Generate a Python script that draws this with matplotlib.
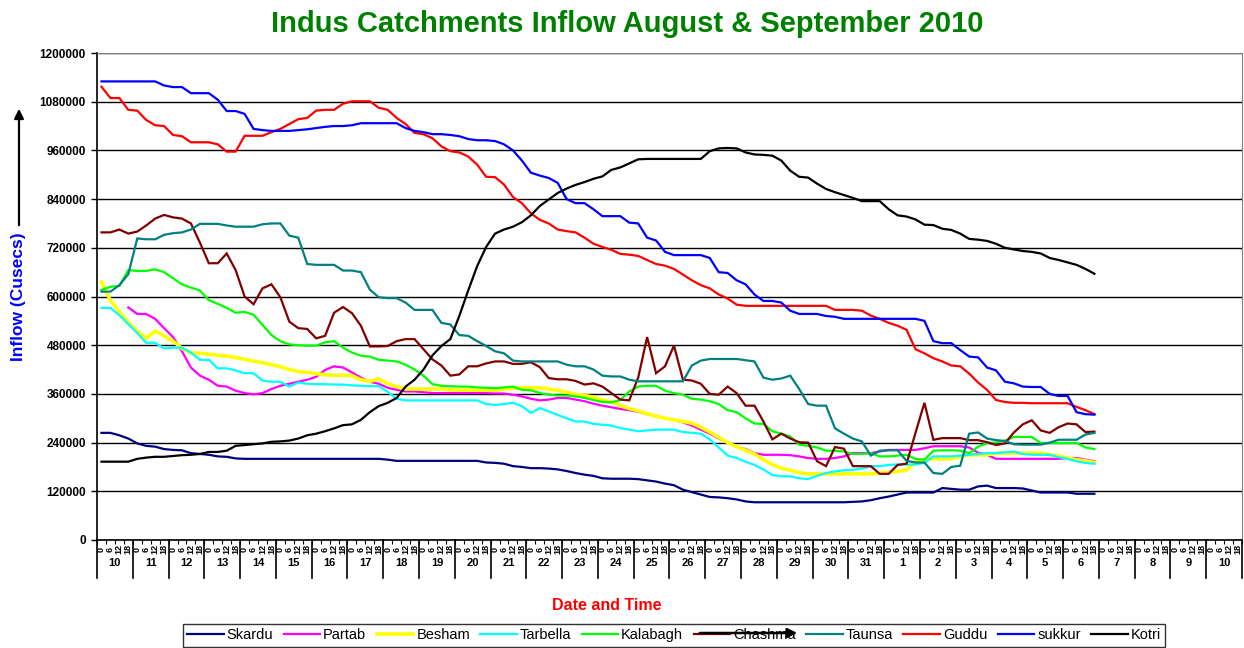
import numpy as np
import matplotlib
matplotlib.use("Agg")
import matplotlib.pyplot as plt
import matplotlib.transforms as mtransforms

plt.rcParams['font.family'] = ['Liberation Sans', 'DejaVu Sans']

# flows in thousand cusecs, one value every 6 hours from 10 Aug 00h to 6 Sep 18h
skardu = [264, 264, 258, 250, 238, 232, 230, 224, 222, 221, 214, 212, 210, 206, 205, 201,
          200, 200, 200, 200, 200, 200, 200, 200, 200, 200, 200, 200, 200, 200, 200, 200,
          198, 195, 195, 195, 195, 195, 195, 195, 195, 195, 195, 191, 190, 188, 182, 180,
          177, 177, 176, 174, 170, 165, 161, 158, 152, 151, 151, 151, 150, 147, 144, 139,
          135, 124, 118, 112, 106, 105, 103, 100, 95, 93, 93, 93, 93, 93, 93, 93,
          93, 93, 93, 93, 94, 95, 98, 103, 107, 112, 117, 117, 117, 117, 128, 126,
          124, 124, 132, 134, 128, 128, 128, 127, 122, 117, 117, 117, 117, 114, 114, 114]
partab = [np.nan, np.nan, np.nan, 573, 557, 557, 545, 522, 500, 465, 425, 405, 395, 380, 378, 368,
          362, 359, 362, 372, 380, 385, 390, 395, 402, 419, 428, 425, 413, 400, 390, 385,
          375, 370, 366, 366, 364, 362, 362, 362, 362, 362, 362, 362, 361, 361, 358, 354,
          348, 344, 346, 350, 350, 346, 342, 336, 331, 327, 323, 320, 316, 310, 306, 300,
          296, 290, 282, 272, 262, 250, 240, 230, 224, 214, 210, 210, 210, 209, 206, 202,
          200, 200, 202, 206, 214, 214, 214, 218, 222, 222, 222, 222, 226, 231, 231, 231,
          231, 228, 215, 210, 200, 200, 200, 200, 200, 200, 200, 200, 202, 202, 198, 194]
besham = [636, 590, 563, 536, 515, 497, 515, 503, 490, 472, 461, 460, 458, 455, 453, 450,
          445, 441, 437, 432, 427, 420, 415, 413, 410, 407, 406, 406, 405, 395, 391, 397,
          385, 378, 372, 372, 372, 372, 372, 370, 369, 369, 369, 369, 369, 372, 374, 375,
          375, 375, 372, 369, 364, 359, 356, 352, 345, 340, 331, 324, 318, 311, 305, 300,
          296, 292, 288, 278, 266, 253, 240, 230, 221, 212, 198, 186, 177, 172, 166, 163,
          163, 163, 163, 163, 163, 163, 163, 165, 167, 169, 172, 192, 198, 200, 200, 200,
          206, 210, 210, 210, 214, 214, 214, 214, 214, 214, 210, 207, 202, 198, 195, 191]
tarbella = [572, 572, 554, 532, 510, 486, 486, 472, 474, 474, 462, 444, 444, 423, 423, 418,
            411, 411, 393, 390, 390, 378, 388, 385, 384, 384, 383, 383, 381, 380, 379, 379,
            365, 348, 344, 344, 344, 344, 344, 344, 344, 344, 344, 335, 333, 335, 338, 330,
            313, 325, 317, 308, 300, 292, 292, 286, 284, 282, 276, 272, 268, 270, 272, 272,
            272, 266, 264, 262, 248, 228, 208, 202, 193, 185, 174, 160, 157, 157, 152, 150,
            158, 165, 169, 172, 173, 176, 182, 182, 185, 186, 186, 186, 190, 206, 206, 206,
            208, 210, 212, 214, 214, 216, 218, 212, 210, 210, 210, 204, 200, 194, 190, 188]
kalabagh = [616, 624, 626, 665, 663, 663, 667, 660, 645, 630, 622, 615, 591, 582, 572, 560,
            562, 555, 530, 505, 490, 482, 480, 479, 479, 487, 490, 474, 462, 454, 452, 444,
            442, 440, 432, 420, 405, 384, 380, 379, 378, 378, 376, 375, 374, 376, 378, 370,
            369, 362, 358, 356, 356, 354, 350, 345, 340, 339, 345, 366, 378, 380, 380, 368,
            362, 358, 348, 346, 342, 335, 320, 315, 300, 287, 286, 268, 262, 255, 235, 232,
            228, 220, 220, 218, 212, 212, 214, 206, 206, 208, 210, 200, 198, 220, 221, 221,
            220, 214, 230, 239, 240, 245, 254, 254, 254, 239, 239, 239, 239, 239, 228, 224]
chashma = [758, 758, 765, 755, 760, 775, 792, 801, 795, 792, 780, 733, 682, 682, 706, 665,
           600, 581, 620, 630, 598, 538, 522, 520, 497, 503, 560, 574, 559, 528, 477, 477,
           478, 490, 495, 495, 470, 445, 430, 405, 408, 428, 428, 435, 440, 440, 434, 434,
           438, 426, 399, 396, 396, 392, 383, 386, 378, 362, 346, 344, 400, 500, 411, 428,
           479, 395, 393, 385, 360, 358, 378, 362, 331, 331, 292, 248, 262, 250, 241, 240,
           194, 182, 229, 225, 182, 182, 182, 163, 163, 185, 188, 264, 338, 247, 251, 251,
           251, 246, 246, 241, 234, 238, 265, 285, 295, 270, 264, 278, 287, 285, 266, 267]
taunsa = [612, 612, 628, 655, 743, 741, 741, 752, 756, 758, 765, 779, 779, 779, 775, 772,
          772, 772, 778, 780, 780, 750, 745, 680, 678, 678, 678, 664, 664, 660, 617, 598,
          596, 596, 585, 567, 567, 567, 535, 531, 505, 503, 490, 478, 465, 460, 442, 440,
          440, 440, 440, 440, 432, 428, 428, 420, 405, 403, 403, 395, 391, 391, 391, 391,
          391, 391, 430, 442, 446, 446, 446, 446, 443, 440, 400, 395, 398, 405, 372, 335,
          331, 331, 275, 262, 250, 243, 208, 220, 221, 221, 195, 191, 191, 165, 163, 180,
          183, 262, 265, 250, 246, 244, 236, 235, 235, 235, 240, 247, 247, 247, 260, 264]
guddu = [1117, 1089, 1089, 1060, 1058, 1035, 1022, 1020, 998, 995, 980, 980, 980, 975, 957, 957,
         996, 996, 996, 1005, 1013, 1025, 1037, 1040, 1058, 1060, 1060, 1075, 1081, 1081, 1081, 1065,
         1060, 1040, 1025, 1003, 1000, 990, 970, 958, 955, 945, 925, 895, 894, 876, 845, 830,
         805, 789, 780, 765, 761, 758, 745, 730, 722, 715, 705, 703, 700, 690, 680, 676,
         668, 654, 640, 628, 620, 605, 595, 580, 577, 577, 577, 577, 577, 577, 577, 577,
         577, 577, 567, 567, 567, 565, 553, 545, 535, 528, 518, 470, 460, 448, 440, 430,
         428, 410, 388, 370, 345, 340, 338, 338, 337, 337, 337, 337, 337, 328, 320, 310]
sukkur = [1130, 1130, 1130, 1130, 1130, 1130, 1130, 1120, 1116, 1116, 1101, 1101, 1101, 1085, 1057, 1057,
          1050, 1013, 1010, 1008, 1008, 1008, 1010, 1012, 1015, 1018, 1020, 1020, 1022, 1027, 1027, 1027,
          1027, 1027, 1015, 1008, 1005, 1000, 1000, 998, 995, 988, 985, 985, 983, 975, 960, 935,
          905, 898, 892, 880, 840, 830, 830, 815, 798, 798, 798, 782, 780, 745, 738, 710,
          702, 702, 702, 702, 695, 660, 658, 640, 630, 605, 589, 589, 585, 565, 557, 557,
          557, 552, 550, 545, 545, 545, 545, 545, 545, 545, 545, 545, 540, 490, 485, 485,
          468, 452, 450, 425, 418, 390, 386, 378, 377, 377, 360, 355, 355, 315, 310, 309]
kotri = [193, 193, 193, 193, 200, 203, 205, 205, 207, 209, 210, 212, 217, 217, 220, 232,
         234, 236, 238, 242, 243, 245, 250, 258, 262, 268, 275, 283, 285, 296, 315, 330,
         338, 350, 378, 395, 420, 455, 478, 495, 552, 615, 675, 722, 755, 765, 772, 783,
         800, 823, 839, 855, 866, 875, 882, 890, 896, 912, 918, 928, 938, 939, 939, 939,
         939, 939, 939, 939, 958, 965, 966, 965, 955, 950, 949, 947, 935, 910, 895, 893,
         878, 865, 857, 850, 843, 835, 835, 835, 815, 800, 797, 790, 777, 776, 767, 764,
         755, 742, 740, 737, 730, 720, 716, 712, 710, 706, 695, 690, 684, 678, 668, 656]

series_names = ['Skardu', 'Partab', 'Besham', 'Tarbella', 'Kalabagh',
                'Chashma', 'Taunsa', 'Guddu', 'sukkur', 'Kotri']
series_data = [skardu, partab, besham, tarbella, kalabagh, chashma, taunsa, guddu, sukkur, kotri]
colors = ['#000080', '#FF00FF', '#FFFF00', '#00FFFF', '#00FF00',
          '#800000', '#008080', '#FF0000', '#0000FF', '#000000']

days = list(range(10, 32)) + list(range(1, 11))
hours = ['0', '6', '12', '18']

W, H = 1244, 648
fig = plt.figure(figsize=(W / 100, H / 100), dpi=100)
ax = fig.add_axes([97 / W, 108 / H, 1145 / W, 487 / H])

ncat = len(days) * 4
for name, vals, col in zip(series_names, series_data, colors):
    y = np.array(vals, dtype=float) * 1000
    x = np.arange(len(y)) + 0.5
    lw = 2.6 if name == 'Besham' else 1.6
    ax.plot(x, y, color=col, lw=lw, label=name, solid_joinstyle='miter')

ax.set_xlim(0, ncat)
ax.set_ylim(0, 1200000)
ax.set_yticks(np.arange(0, 1200001, 120000))
ax.set_yticklabels([str(v) for v in range(0, 1200001, 120000)], fontsize=8.5, fontweight='bold')
ax.yaxis.grid(True, color='black', lw=1)
ax.set_axisbelow(True)
ax.tick_params(axis='y', length=4, width=1, pad=4)

ax.set_xticks(np.arange(0, ncat + 1))
ax.set_xticklabels([])
ax.tick_params(axis='x', length=3, width=0.8)

for s in ['top', 'right']:
    ax.spines[s].set_color('#808080')
for s in ['left', 'bottom']:
    ax.spines[s].set_color('black')
    ax.spines[s].set_linewidth(1.2)

trans = mtransforms.blended_transform_factory(ax.transData, ax.transAxes)
ph = 487.0
for k in range(ncat):
    ax.text(k + 0.5, -9 / ph, hours[k % 4], transform=trans, rotation=90,
            ha='center', va='center', fontsize=6.5, fontweight='bold')
for d, day in enumerate(days):
    ax.text(d * 4 + 2, -23 / ph, str(day), transform=trans, ha='center', va='center',
            fontsize=8, fontweight='bold')
for d in range(len(days) + 1):
    ax.plot([d * 4, d * 4], [0, -38 / ph], transform=trans, color='black', lw=1.2,
            clip_on=False)

fig.text(627 / W, 1 - 24 / H, 'Indus Catchments Inflow August & September 2010',
         ha='center', va='center', fontsize=21, fontweight='bold', color='#008000')
fig.text(607 / W, 1 - 605 / H, 'Date and Time', ha='center', va='center',
         fontsize=11.5, fontweight='bold', color='#FF0000')
fig.text(19 / W, 1 - 297 / H, 'Inflow (Cusecs)', ha='center', va='center', rotation=90,
         fontsize=12.5, fontweight='bold', color='#0000FF')
fig.add_artist(matplotlib.patches.FancyArrowPatch(
    (19 / W, 1 - 228 / H), (19 / W, 1 - 106 / H), transform=fig.transFigure,
    arrowstyle='-|>', mutation_scale=14, color='black', lw=1.6))

leg = fig.legend(loc='upper left', bbox_to_anchor=(183 / W, 1 - 624 / H), ncol=10,
                 fontsize=10.5, frameon=True, fancybox=False, edgecolor='black',
                 handlelength=2.5, handletextpad=0.2, columnspacing=0.72,
                 borderpad=0.3, borderaxespad=0)
leg.get_frame().set_linewidth(1.0)

arrow = matplotlib.patches.FancyArrowPatch(
    (697 / W, 1 - 633 / H), (800 / W, 1 - 633 / H), transform=fig.transFigure,
    arrowstyle='-|>', mutation_scale=14, color='black', lw=1.8, zorder=20)
fig.add_artist(arrow)

fig.savefig('out.png', dpi=100)
